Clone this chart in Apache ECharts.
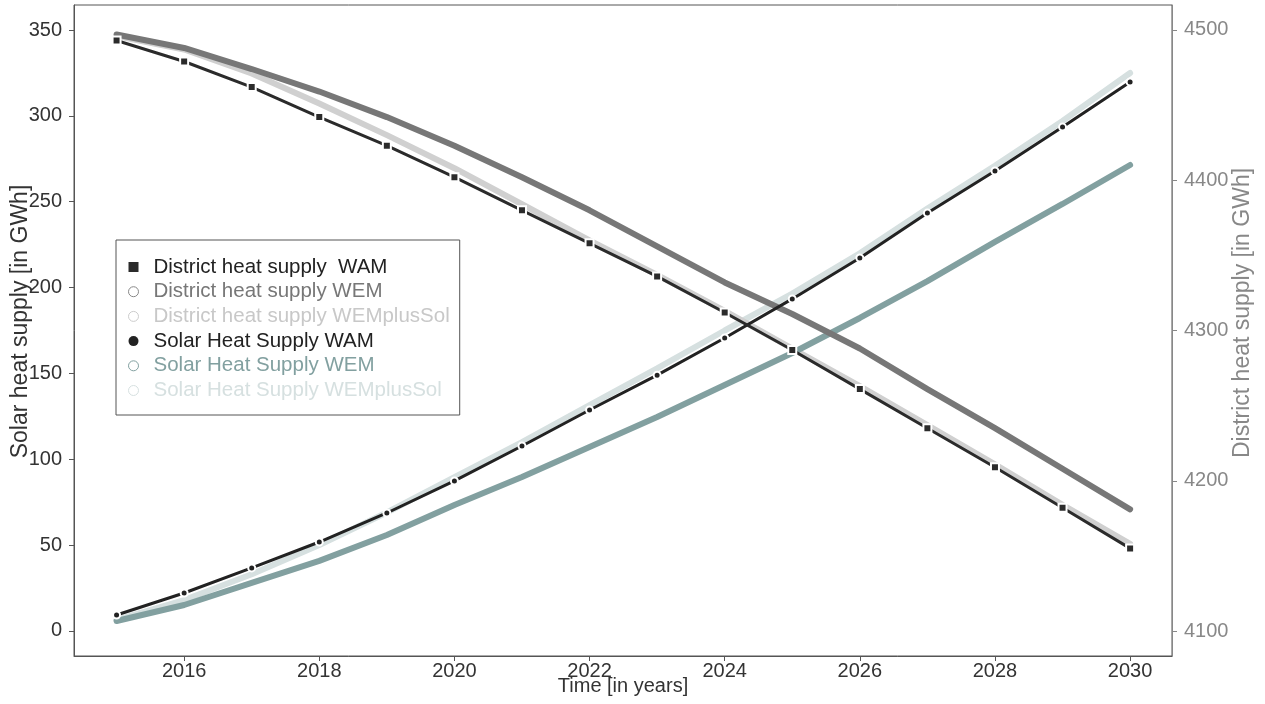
<!DOCTYPE html>
<html><head><meta charset="utf-8">
<script src="https://cdn.jsdelivr.net/npm/echarts@6/dist/echarts.min.js"></script>
<style>html,body{margin:0;padding:0;background:#fff}#c{width:1265px;height:704px}</style>
</head><body><div id="c"></div>
<script>
const years = [2015,2016,2017,2018,2019,2020,2021,2022,2023,2024,2025,2026,2027,2028,2029,2030];
const xTicks = [2016,2018,2020,2022,2024,2026,2028,2030];
const leftTicks = [0,50,100,150,200,250,300,350];
const rightTicks = [4100,4200,4300,4400,4500];
const districtWAM = [4493,4479,4462,4442,4423,4402,4380,4358,4336,4312,4287,4261,4235,4209,4182,4155];
const districtWEM = [4497,4488,4474,4459,4442,4423,4402,4380,4356,4332,4311,4288,4261,4235,4208,4181];
const districtWEMplusSol = [4496,4487,4471,4451,4430,4408,4384,4360,4337,4313,4288,4263,4237,4211,4184,4158];
const solarWAM = [9.3,22.1,36.7,51.8,68.7,87.4,107.7,128.7,149,170.6,193.4,217.2,243.4,267.9,293.5,319.7];
const solarWEM = [5.8,15.1,28,40.8,55.9,73.4,89.7,107.2,124.6,143.3,161.9,182.3,203.8,226.6,248.7,271.4];
const solarWEMplusSol = [6.5,18,33,50,69,89.5,110,131.5,153,175,196.5,220,246,271,297,325];

const pairs = arr => years.map((y,i)=>[y,arr[i]]);
const font = 'Liberation Sans, Arial, sans-serif';
const fmt = v => String(v);
const names = ['District heat supply  WAM','District heat supply WEM','District heat supply WEMplusSol','Solar Heat Supply WAM','Solar Heat Supply WEM','Solar Heat Supply WEMplusSol'];
const cols = ['#2b2b2b','#777777','#d0d0d0','#222222','#82a0a0','#d6e0e0'];

const chart = echarts.init(document.getElementById('c'));
chart.setOption({
  animation:false,
  grid:{left:74,right:93,top:5,bottom:48,show:true,borderColor:'#555',borderWidth:1,outerBoundsMode:'none',containLabel:false},
  legend:{
    orient:'vertical',left:116,top:240,
    padding:[16,10,13.5,12],
    borderColor:'#555',borderWidth:1,
    itemWidth:10,itemHeight:10,itemGap:2.7,
    textStyle:{fontFamily:font,fontSize:20.5,lineHeight:22,padding:[0,0,0,10]},
    data:[
      {name:names[0],icon:'rect',itemStyle:{color:cols[0],borderWidth:0},textStyle:{color:'#222'}},
      {name:names[1],icon:'circle',itemStyle:{color:'#fff',borderColor:'#888',borderWidth:1},textStyle:{color:'#777'}},
      {name:names[2],icon:'circle',itemStyle:{color:'#fff',borderColor:'#ccc',borderWidth:1},textStyle:{color:'#c8c8c8'}},
      {name:names[3],icon:'circle',itemStyle:{color:cols[3],borderWidth:0},textStyle:{color:'#222'}},
      {name:names[4],icon:'circle',itemStyle:{color:'#fff',borderColor:'#82a0a0',borderWidth:1},textStyle:{color:'#82a0a0'}},
      {name:names[5],icon:'circle',itemStyle:{color:'#fff',borderColor:'#d6e0e0',borderWidth:1},textStyle:{color:'#d6e0e0'}}
    ]
  },
  xAxis:{
    type:'value',min:2014.37,max:2030.62,
    name:'Time [in years]',nameLocation:'middle',nameGap:20,nameMoveOverlap:false,
    nameTextStyle:{fontFamily:font,fontSize:20,color:'#333'},
    axisLine:{onZero:false,lineStyle:{color:'#555'}},
    axisTick:{show:true,length:5,customValues:xTicks,lineStyle:{color:'#555'}},
    axisLabel:{customValues:xTicks,formatter:fmt,fontFamily:font,fontSize:20,color:'#333',margin:5},
    splitLine:{show:false}
  },
  yAxis:[{
    type:'value',min:-14.6,max:364.6,position:'left',
    name:'Solar heat supply [in GWh]',nameLocation:'middle',nameGap:41.5,nameMoveOverlap:false,
    nameTextStyle:{fontFamily:font,fontSize:23,color:'#333',padding:[0,0,0,18]},
    axisLine:{show:true,onZero:false,lineStyle:{color:'#555'}},
    axisTick:{show:true,length:5,customValues:leftTicks,lineStyle:{color:'#555'}},
    axisLabel:{customValues:leftTicks,formatter:fmt,fontFamily:font,fontSize:20,color:'#333',margin:12},
    splitLine:{show:false}
  },{
    type:'value',min:4083.4,max:4516.6,position:'right',
    name:'District heat supply [in GWh]',nameLocation:'middle',nameGap:59.5,nameMoveOverlap:false,
    nameTextStyle:{fontFamily:font,fontSize:23,color:'#888',padding:[0,0,0,35]},
    axisLine:{show:true,onZero:false,lineStyle:{color:'#888'}},
    axisTick:{show:true,length:5,customValues:rightTicks,lineStyle:{color:'#888'}},
    axisLabel:{customValues:rightTicks,formatter:fmt,fontFamily:font,fontSize:20,color:'#888',margin:12},
    splitLine:{show:false}
  }],
  series:[
    {name:names[5],type:'line',yAxisIndex:0,data:pairs(solarWEMplusSol),showSymbol:false,z:2,
     lineStyle:{width:6,color:cols[5],cap:'round'},itemStyle:{color:cols[5]}},
    {name:names[2],type:'line',yAxisIndex:1,data:pairs(districtWEMplusSol),showSymbol:false,z:2,
     lineStyle:{width:6,color:cols[2],cap:'round'},itemStyle:{color:cols[2]}},
    {name:names[4],type:'line',yAxisIndex:0,data:pairs(solarWEM),showSymbol:false,z:3,
     lineStyle:{width:6,color:cols[4],cap:'round'},itemStyle:{color:cols[4]}},
    {name:names[1],type:'line',yAxisIndex:1,data:pairs(districtWEM),showSymbol:false,z:3,
     lineStyle:{width:6,color:cols[1],cap:'round'},itemStyle:{color:cols[1]}},
    {name:names[3],type:'line',yAxisIndex:0,data:pairs(solarWAM),symbol:'circle',symbolSize:7,showSymbol:true,z:4,
     lineStyle:{width:3,color:cols[3]},itemStyle:{color:cols[3],borderColor:'#fff',borderWidth:2}},
    {name:names[0],type:'line',yAxisIndex:1,data:pairs(districtWAM),symbol:'rect',symbolSize:8,showSymbol:true,z:4,
     lineStyle:{width:3,color:cols[0]},itemStyle:{color:cols[0],borderColor:'#fff',borderWidth:2}}
  ]
});
</script></body></html>
